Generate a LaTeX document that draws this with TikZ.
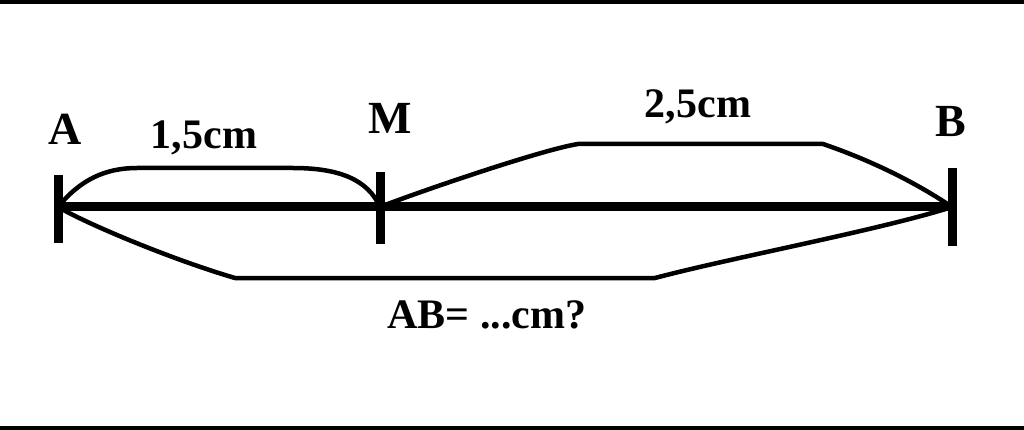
\documentclass[tikz,border=0pt]{standalone}
\usepackage{fontspec}
\setmainfont{Liberation Serif}
\begin{document}
\begin{tikzpicture}[x=1pt,y=-1pt,
  letter/.style={font=\fontsize{46}{46}\selectfont\bfseries, inner sep=0pt, anchor=base},
  meas/.style={font=\fontsize{42}{42}\selectfont\bfseries, inner sep=0pt, anchor=base},
  segline/.style={line width=9pt},
  tickline/.style={line width=9pt},
  arc/.style={line width=4.5pt, line join=round, line cap=round}]
\useasboundingbox (0,0) rectangle (1024,430);
\fill[white] (0,0) rectangle (1024,430);
\fill[black] (0,0) rectangle (1024,4.5);
\fill[black] (0,425.5) rectangle (1024,430);
% points
\coordinate (A) at (58,207);
\coordinate (M) at (380,207);
\coordinate (B) at (952,207);
\coordinate (Atop) at (58,175);
\coordinate (Abot) at (58,243);
\coordinate (Mtop) at (380,172);
\coordinate (Mbot) at (380,244);
\coordinate (Btop) at (952,168);
\coordinate (Bbot) at (952,246);
% main segment and ticks
\draw[segline] (A) -- (B);
\draw[tickline] (Atop) -- (Abot);
\draw[tickline] (Mtop) -- (Mbot);
\draw[tickline] (Btop) -- (Bbot);
% braces
\draw[arc] (A) .. controls (80,180) and (105,168) .. (137,168) -- (293,168)
  .. controls (340,168) and (368,180) .. (M);
\draw[arc] (M) .. controls (410,195) and (540,150) .. (578,144) -- (823,144)
  .. controls (870,160) and (915,182) .. (B);
\draw[arc] (A) .. controls (95,228) and (180,262) .. (235,278) -- (655,278)
  .. controls (730,258) and (880,230) .. (B);
% labels
\node[letter] (lA) at (65,145) {A};
\node[letter] (lM) at (390,134) {M};
\node[letter] (lB) at (951,137) {B};
\node[meas] (l15) at (204,149) {1,5cm};
\node[meas] (l25) at (698,118) {2,5cm};
\node[meas] (lAB) at (487,328) {AB= ...cm?};
\end{tikzpicture}
\end{document}
